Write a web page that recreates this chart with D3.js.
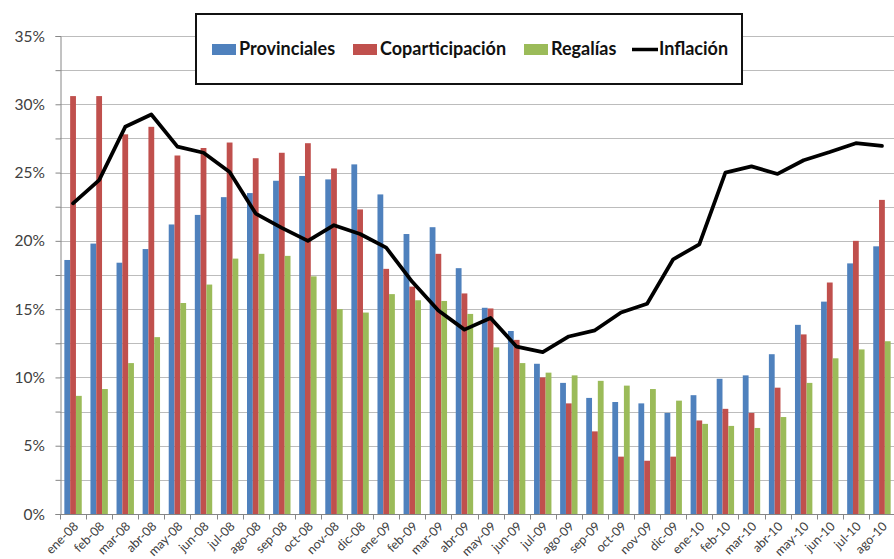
<!DOCTYPE html>
<html>
<head>
<meta charset="utf-8">
<script src="https://cdn.jsdelivr.net/npm/d3@7"></script>
<style>
    body { margin: 0; background: #fff; }
    svg { display: block; }
    .tick-label { font-family: Lato, "Open Sans", sans-serif; fill: #404040; }
    .legend-label { font-family: Lato, "Open Sans", sans-serif; font-weight: bold; font-size: 18px; fill: #111; }
</style>
</head>
<body>
<svg width="894" height="559"></svg>
<script>
// months shown on the x axis
let months = ["ene-08","feb-08","mar-08","abr-08","may-08","jun-08","jul-08","ago-08","sep-08","oct-08","nov-08","dic-08",
              "ene-09","feb-09","mar-09","abr-09","may-09","jun-09","jul-09","ago-09","sep-09","oct-09","nov-09","dic-09",
              "ene-10","feb-10","mar-10","abr-10","may-10","jun-10","jul-10","ago-10"];

// % growth
let provinciales = [18.6,19.8,18.4,19.4,21.2,21.9,23.2,23.5,24.4,24.75,24.5,25.6,
                    23.4,20.5,21.0,18.0,15.1,13.4,11.0,9.6,8.5,8.2,8.1,7.4,
                    8.7,9.9,10.15,11.7,13.85,15.55,18.35,19.6];
let coparticipacion = [30.6,30.6,27.8,28.35,26.25,26.8,27.2,26.05,26.45,27.15,25.3,22.3,
                       17.95,16.65,19.05,16.15,15.05,12.75,10.0,8.1,6.05,4.2,3.9,4.2,
                       6.85,7.7,7.4,9.25,13.15,16.95,20.0,23.0];
let regalias = [8.65,9.15,11.05,12.95,15.45,16.8,18.7,19.05,18.9,17.4,15.0,14.75,
                16.1,15.65,15.6,14.65,12.2,11.05,10.35,10.15,9.75,9.4,9.15,8.3,
                6.6,6.45,6.3,7.1,9.6,11.4,12.05,12.65];
let inflacion = [22.75,24.45,28.35,29.25,26.9,26.45,25.05,22.0,20.95,20.0,21.15,20.5,
                 19.5,17.0,14.9,13.5,14.35,12.25,11.85,13.0,13.45,14.75,15.4,18.65,
                 19.75,25.0,25.45,24.9,25.9,26.5,27.15,26.95];

let series_names = ["Provinciales", "Coparticipación", "Regalías"];
let series_colors = ["#4F81BD", "#C0504D", "#9BBB59"];
let y_ticks = [0,5,10,15,20,25,30,35];
let grid_ticks = [2.5,5,7.5,10,12.5,15,17.5,20,22.5,25,27.5,30,32.5,35];

let svg = d3.select("svg");
let plot_left = 60, plot_right = 895, plot_top = 36, plot_bottom = 514;

let x = d3.scaleBand().domain(months).range([plot_left, plot_right]).padding(0);
let bw = x.bandwidth();
let xs = d3.scaleBand().domain(series_names).range([bw / 6, bw * 5 / 6]).padding(0);
let y = d3.scaleLinear().domain([0, 35]).range([plot_bottom, plot_top]);

// gridlines
svg.append("g")
    .selectAll("line")
    .data(grid_ticks)
    .enter()
    .append("line")
        .attr("x1", plot_left)
        .attr("x2", plot_right)
        .attr("y1", d => Math.round(y(d)) + 0.5)
        .attr("y2", d => Math.round(y(d)) + 0.5)
        .attr("stroke", "#bcbcbc")
        .attr("stroke-width", 1);

// bars
let rows = months.map((m, i) => ({
    month: m,
    values: [provinciales[i], coparticipacion[i], regalias[i]]
}));

let groups = svg.append("g")
    .selectAll("g")
    .data(rows)
    .enter()
    .append("g")
        .attr("transform", d => "translate(" + x(d.month) + ",0)");

groups.selectAll("rect")
    .data(d => d.values.map((v, k) => ({ name: series_names[k], value: v, color: series_colors[k] })))
    .enter()
    .append("rect")
        .attr("x", d => xs(d.name))
        .attr("y", d => y(d.value))
        .attr("width", xs.bandwidth())
        .attr("height", d => y(0) - y(d.value))
        .attr("fill", d => d.color);

// axes
let y_axis = svg.append("g")
    .attr("transform", "translate(" + (plot_left + 0.5) + ",0)")
    .call(d3.axisLeft(y).tickValues(grid_ticks.concat([0])).tickSize(5).tickFormat(""));
y_axis.select(".domain").attr("stroke", "#868686");
y_axis.selectAll(".tick line").attr("stroke", "#868686");

svg.append("g")
    .selectAll("text")
    .data(y_ticks)
    .enter()
    .append("text")
        .attr("class", "tick-label")
        .attr("x", 45)
        .attr("y", d => y(d))
        .attr("dy", "0.36em")
        .attr("text-anchor", "end")
        .style("font-size", "15.5px")
        .text(d => d + "%");

let x_axis = svg.append("g")
    .attr("transform", "translate(0," + (plot_bottom + 0.5) + ")");
x_axis.append("line")
    .attr("x1", plot_left).attr("x2", plot_right)
    .attr("stroke", "#868686");
x_axis.selectAll(".xtick")
    .data(months)
    .enter()
    .append("line")
        .attr("x1", d => Math.round(x(d)) + 0.5)
        .attr("x2", d => Math.round(x(d)) + 0.5)
        .attr("y1", 0)
        .attr("y2", 5)
        .attr("stroke", "#868686");

svg.append("g")
    .selectAll("text")
    .data(months)
    .enter()
    .append("text")
        .attr("class", "tick-label")
        .attr("text-anchor", "end")
        .style("font-size", "12.5px")
        .attr("transform", d => "translate(" + (x(d) + bw / 2 + 6) + "," + (plot_bottom + 13) + ") rotate(-45)")
        .text(d => d);

// inflation line
let line = d3.line()
    .x((d, i) => x(months[i]) + bw / 2)
    .y(d => y(d));

svg.append("path")
    .datum(inflacion)
    .attr("d", line)
    .attr("fill", "none")
    .attr("stroke", "#000")
    .attr("stroke-width", 3.75)
    .attr("stroke-linejoin", "round")
    .attr("stroke-linecap", "round");

// legend
let legend = svg.append("g");
legend.append("rect")
    .attr("x", 196).attr("y", 14)
    .attr("width", 546).attr("height", 70)
    .attr("fill", "#fff")
    .attr("stroke", "#111")
    .attr("stroke-width", 2);

let legend_x = [212, 353, 524];
series_names.forEach((name, k) => {
    legend.append("rect")
        .attr("x", legend_x[k]).attr("y", 44)
        .attr("width", 24).attr("height", 11)
        .attr("fill", series_colors[k]);
    legend.append("text")
        .attr("class", "legend-label")
        .attr("x", legend_x[k] + 27).attr("y", 55)
        .text(name);
});
legend.append("line")
    .attr("x1", 632).attr("x2", 658)
    .attr("y1", 49.5).attr("y2", 49.5)
    .attr("stroke", "#000").attr("stroke-width", 3.5);
legend.append("text")
    .attr("class", "legend-label")
    .attr("x", 659).attr("y", 55)
    .text("Inflación");
</script>
</body>
</html>
